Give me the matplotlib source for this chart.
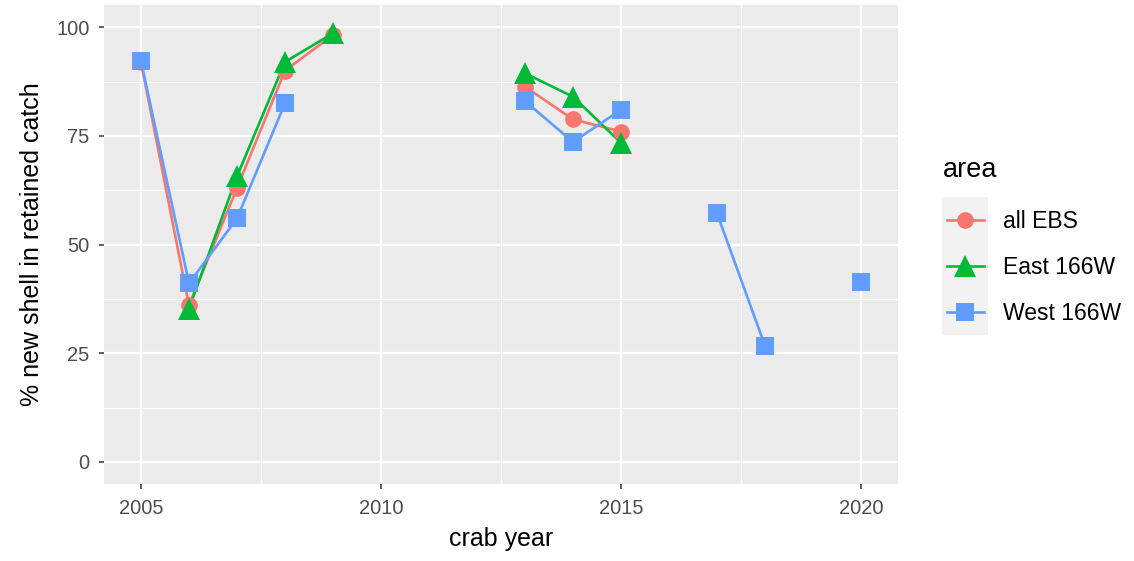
import numpy as np
import matplotlib.pyplot as plt
from matplotlib.lines import Line2D
from matplotlib.patches import Rectangle
from matplotlib.ticker import MultipleLocator

plt.rcParams['font.family'] = ['Liberation Sans', 'DejaVu Sans']

years = [2005, 2006, 2007, 2008, 2009, 2010, 2011, 2012, 2013, 2014, 2015, 2016, 2017, 2018, 2019, 2020]
nan = np.nan
all_ebs = [92.0, 36.0, 63.0, 90.0, 98.2, nan, nan, nan, 86.3, 78.8, 76.0, nan, nan, nan, nan, nan]
east_166w = [nan, 35.3, 65.7, 92.0, 98.6, nan, nan, nan, 89.4, 84.0, 73.4, nan, nan, nan, nan, nan]
west_166w = [92.2, 41.1, 56.0, 82.5, nan, nan, nan, nan, 83.0, 73.6, 81.0, nan, 57.2, 26.7, nan, 41.4]

areas = ['all EBS', 'East 166W', 'West 166W']
series = [all_ebs, east_166w, west_166w]
colors = ['#F8766D', '#00BA38', '#619CFF']
markers = ['o', '^', 's']
msizes = [12, 16, 13.5]

fig = plt.figure(figsize=(11.34, 5.61), dpi=100)
ax = fig.add_axes([104 / 1134, 1 - 484 / 561, 794 / 1134, 479 / 561])
ax.set_facecolor('#EBEBEB')
for s in ax.spines.values():
    s.set_visible(False)

x = np.array(years, dtype=float)
for vals, c in zip(series, colors):
    ax.plot(x, vals, color=c, lw=1.9, zorder=2, solid_capstyle='butt')
for vals, c, m, ms in zip(series, colors, markers, msizes):
    ax.plot(x, vals, ls='none', marker=m, ms=ms, color=c, markeredgewidth=0, zorder=3)

ax.set_xlim(2004.23, 2020.77)
ax.set_ylim(-5.06, 105.1)
ax.xaxis.set_major_locator(MultipleLocator(5))
ax.xaxis.set_minor_locator(MultipleLocator(2.5))
ax.yaxis.set_major_locator(MultipleLocator(25))
ax.yaxis.set_minor_locator(MultipleLocator(12.5))
ax.grid(which='major', color='white', lw=1.6, zorder=0)
ax.grid(which='minor', color='white', lw=0.8, zorder=0)
ax.set_axisbelow(True)
ax.tick_params(which='major', length=3.5, width=1.1, color='#333333', labelsize=14.5,
               labelcolor='#4D4D4D', pad=7)
ax.tick_params(which='minor', length=0)

ax.set_xlabel('crab year', fontsize=18, color='black', labelpad=7)
ax.set_ylabel('% new shell in retained catch', fontsize=18, color='black', labelpad=9)

# legend
fig.text(943 / 1134, 1 - 170 / 561, 'area', fontsize=19.5, va='center', ha='left')
fig.patches.append(Rectangle((942 / 1134, 1 - 335 / 561), 46 / 1134, 138 / 561,
                             transform=fig.transFigure, facecolor='#F2F2F2', edgecolor='none'))
handles = [Line2D([], [], color=c, lw=1.9, marker=m, ms=ms, markeredgewidth=0)
           for c, m, ms in zip(colors, markers, msizes)]
fig.legend(handles, areas, loc='upper left', bbox_to_anchor=(947 / 1134, 1 - 210 / 561),
           frameon=False, fontsize=16.5, handlelength=1.6, handletextpad=0.83,
           labelspacing=1.0, borderaxespad=0, borderpad=0)

fig.savefig('out.png', dpi=100)
